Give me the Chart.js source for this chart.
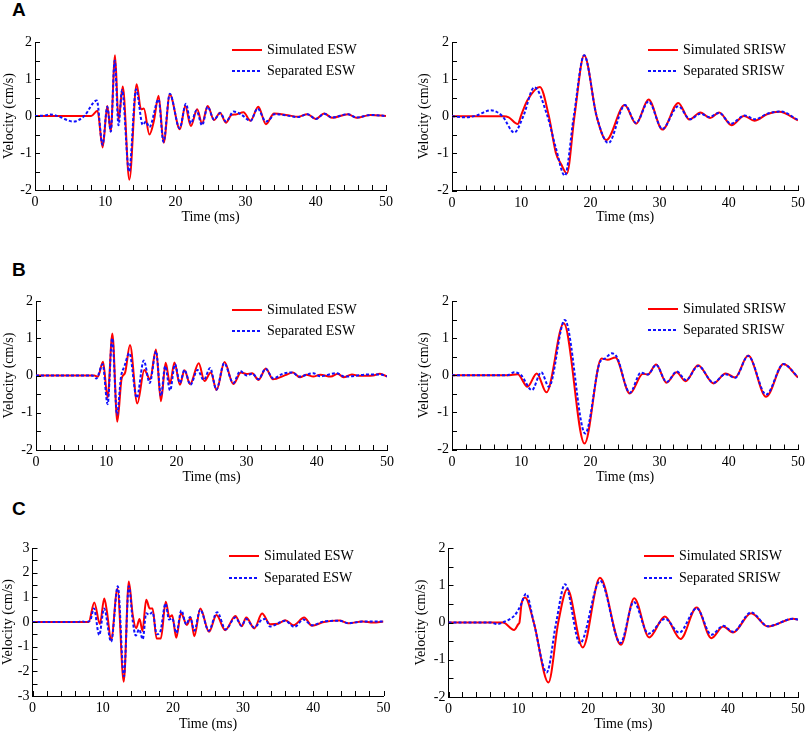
<!DOCTYPE html>
<html>
<head>
<meta charset="utf-8">
<script src="https://cdn.jsdelivr.net/npm/chart.js@4.4.0/dist/chart.umd.min.js"></script>
<style>
  body { margin: 0; background: #fff; }
  #wrap { position: relative; width: 809px; height: 734px; overflow: hidden; }
  canvas { position: absolute; }
  .tag { position: absolute; left: 12px; font: bold 19px/19px "Liberation Sans", Arial, sans-serif; color: #000; }
</style>
</head>
<body>
<div id="wrap">
  <div class="tag" style="top:0px">A</div>
  <div class="tag" style="top:260px">B</div>
  <div class="tag" style="top:499px">C</div>
  <canvas id="a1"></canvas>
  <canvas id="a2"></canvas>
  <canvas id="b1"></canvas>
  <canvas id="b2"></canvas>
  <canvas id="c1"></canvas>
  <canvas id="c2"></canvas>
</div>
<script>
// [time (ms), velocity (cm/s)] (peaks, troughs, shoulders)
const aEswSim = [[0,0],[8.0,0],[8.9,0.14],[9.64,-0.85],[10.3,0.27],[10.78,-0.42],[11.4,1.64],[11.9,-0.11],[12.5,0.8],[13.44,-1.72],[14.48,0.86],[15.1,0.18],[15.5,0.2],[16.3,-0.5],[16.95,-0.12],[17.6,0.55],[18.33,-0.72],[19.2,0.58],[20.65,-0.36],[21.4,0.27],[22.2,-0.27],[23.1,0.18],[23.8,-0.2],[24.6,0.27],[25.5,-0.11],[26.35,0.09],[27.2,-0.18],[28.0,0.03],[28.6,0.04],[29.7,0.1],[30.7,-0.13],[31.8,0.25],[32.9,-0.22],[34.05,0.07],[36,0.02],[37.5,-0.02],[38.8,0.05],[40,-0.08],[41.2,0.07],[42.3,-0.05],[44.6,0.05],[45.8,-0.05],[47.8,0.03],[50,0]];
const aEswSep = [[0,0],[1.2,0.01],[2.2,0.04],[3.2,0],[5.5,-0.15],[7.0,0],[8.8,0.42],[9.62,-0.78],[10.3,0.25],[10.8,-0.42],[11.35,1.5],[11.9,-0.25],[12.4,0.7],[13.4,-1.5],[14.4,0.72],[15.35,-0.24],[15.8,-0.15],[16.3,-0.3],[17.6,0.45],[18.3,-0.7],[19.2,0.6],[20.6,-0.33],[21.5,0.33],[22.2,-0.2],[23.0,0.15],[23.8,-0.25],[24.6,0.25],[25.5,-0.1],[26.4,0.08],[27.2,-0.15],[28.3,0.12],[29.3,0.05],[30.7,-0.13],[31.7,0.2],[32.9,-0.15],[33.5,-0.08],[34.1,0.05],[36,0.01],[37.5,-0.03],[38.8,0.05],[40,-0.08],[41.2,0.06],[42.3,-0.04],[44.6,0.05],[45.8,-0.04],[47.8,0.03],[50,0]];
const aSrSim = [[0,0],[7.5,0],[8.2,-0.03],[9.5,-0.21],[10.0,0.03],[10.9,0.43],[12.7,0.79],[14.0,0],[15.0,-0.98],[15.8,-1.3],[16.6,-1.54],[17.7,0],[19.1,1.64],[20.9,0],[22.3,-0.64],[24.95,0.3],[26.6,-0.2],[28.4,0.45],[30.4,-0.36],[32.7,0.36],[34.3,-0.09],[35.9,0.1],[37.3,-0.05],[38.6,0.1],[40.4,-0.24],[42.2,0.01],[43.7,-0.12],[45.6,0.06],[47.3,0.12],[50,-0.11]];
const aSrSep = [[0,0],[2.0,-0.03],[3.5,0.02],[5.6,0.16],[7.3,0],[9.0,-0.44],[10.3,0],[11.9,0.78],[13.8,0],[15.0,-0.85],[16.3,-1.6],[17.6,0],[19.1,1.64],[20.9,0],[22.6,-0.72],[25.0,0.3],[26.6,-0.18],[28.4,0.4],[30.4,-0.34],[32.7,0.27],[34.4,-0.08],[35.9,0.07],[37.2,-0.02],[38.6,0.09],[40.3,-0.2],[42.3,0.02],[43.8,-0.08],[45.6,0.07],[47.5,0.13],[50,-0.1]];

const bEswSim = [[0,0],[8.3,0],[8.8,-0.03],[9.55,0.37],[10.2,-0.6],[10.88,1.13],[11.58,-1.24],[12.2,-0.08],[12.68,0.07],[13.39,0.82],[14.43,-0.75],[15.43,0.15],[16.24,-0.1],[17.09,0.7],[17.8,-0.69],[18.47,0.34],[19.09,-0.22],[19.72,0.35],[20.5,-0.25],[21.15,0.14],[21.95,-0.23],[23.18,0.33],[24.0,-0.15],[24.9,0.08],[25.72,-0.39],[26.85,0.36],[28.1,-0.23],[29.2,0.08],[30.0,0.04],[30.8,0.06],[31.7,-0.12],[32.75,0.19],[33.75,-0.1],[35.5,0.01],[36.6,0.08],[37.6,-0.05],[38.5,0.02],[39.5,-0.03],[40.5,0.02],[42,-0.03],[43,0.05],[43.8,-0.05],[45,0.03],[46,-0.01],[48,0],[49,0.05],[50,-0.03]];
const bEswSep = [[0,0],[8.0,0],[8.6,-0.08],[9.5,0.3],[10.2,-0.77],[10.85,1.0],[11.55,-1.05],[12.1,-0.05],[12.6,0.25],[13.3,0.6],[14.35,-0.6],[15.35,0.4],[16.2,-0.2],[17.1,0.65],[17.8,-0.55],[18.4,0.25],[19.1,-0.4],[19.8,0.3],[20.5,-0.2],[21.15,0.15],[22.0,-0.25],[23.0,0.15],[23.9,-0.12],[24.8,0.2],[25.7,-0.38],[26.8,0.33],[28.1,-0.2],[29.1,0.12],[30,0.0],[30.8,0.05],[31.7,-0.1],[32.7,0.18],[33.8,-0.08],[35.2,0.05],[36.5,0.08],[37.5,-0.03],[39.5,0.06],[40.5,-0.02],[42.8,0.06],[44,-0.03],[47.5,0.03],[49,0.03],[50,-0.02]];
const bSrSim = [[0,0],[8.0,0],[9.5,0.03],[10.9,-0.31],[12.25,0.05],[13.65,-0.46],[16.15,1.4],[19.15,-1.84],[21.6,0.45],[22.5,0.42],[23.6,0.48],[25.7,-0.49],[27.6,0.04],[28.3,0.02],[29.5,0.29],[31.0,-0.2],[32.45,0.08],[33.75,-0.16],[35.55,0.27],[37.8,-0.22],[39.55,0.05],[40.9,-0.06],[42.8,0.53],[45.4,-0.58],[47.9,0.3],[50,-0.06]];
const bSrSep = [[0,0],[8.0,0],[9.0,0.08],[10.0,0.0],[11.55,-0.4],[12.9,0.08],[14.0,-0.31],[16.3,1.49],[19.25,-1.57],[21.4,0.36],[22.1,0.45],[23.05,0.59],[23.8,0.5],[25.7,-0.47],[27.3,0.07],[28.3,0.02],[29.5,0.28],[31.0,-0.18],[32.5,0.1],[33.8,-0.13],[35.6,0.25],[37.8,-0.2],[39.5,0.03],[40.9,-0.07],[42.8,0.52],[45.4,-0.52],[47.9,0.3],[50,-0.05]];

const cEswSim = [[0,0],[8.0,0],[8.8,0.79],[9.6,-0.08],[10.22,0.95],[10.6,0.43],[11.2,-0.74],[12.1,1.35],[13.0,-2.42],[13.72,1.64],[14.28,0.28],[14.77,-0.25],[15.25,0.12],[15.66,-0.36],[16.2,0.9],[16.7,0.55],[17.1,0.55],[17.68,-0.67],[18.28,-0.67],[18.98,0.82],[19.5,0.2],[19.9,0.27],[20.48,-0.64],[21.15,0.35],[22.0,-0.12],[22.53,0.18],[23.05,-0.58],[23.9,0.55],[25.15,-0.4],[26.2,0.28],[27.45,-0.33],[28.9,0.24],[29.8,-0.17],[30.45,0.18],[31.6,-0.26],[32.7,0.34],[33.85,-0.09],[35,-0.07],[36.0,0.07],[37.2,-0.13],[38.7,0.18],[39.8,-0.15],[41.5,0.0],[43.7,0.06],[45,-0.05],[47,0.02],[48.5,-0.02],[50,0.02]];
const cEswSep = [[0,0],[6.5,0],[7.0,0.03],[7.5,0],[8.2,0.05],[8.75,0.55],[9.5,-0.53],[10.2,0.55],[11.2,-0.8],[12.15,1.45],[13.02,-2.2],[13.72,1.45],[14.3,0.0],[14.7,-0.55],[15.2,-0.3],[15.7,-0.7],[16.2,0.35],[16.6,0.3],[17.1,0.4],[17.7,-0.5],[18.2,-0.4],[18.95,0.75],[19.45,0.1],[19.9,0.15],[20.5,-0.45],[21.2,0.47],[21.9,-0.1],[22.45,0.2],[23.05,-0.35],[23.9,0.5],[25.1,-0.35],[26.3,0.4],[27.5,-0.3],[28.9,0.18],[29.8,-0.15],[30.4,0.12],[31.6,-0.22],[32.7,0.1],[33.2,0.12],[33.8,-0.18],[36.0,0.05],[37.3,-0.2],[38.6,0.1],[39.8,-0.13],[41.5,0.02],[43.7,0.05],[45,-0.05],[47,0.02],[50,0.02]];
const cSrSim = [[0,0],[7.8,0],[9.38,-0.2],[10.0,-0.04],[10.15,0.0],[10.45,0.5],[10.95,0.67],[12.2,0],[14.3,-1.61],[15.7,0],[17.0,0.9],[19.2,-0.67],[21.67,1.2],[24.67,-0.6],[26.57,0.65],[28.7,-0.4],[30.95,0.16],[33.2,-0.44],[35.5,0.4],[37.6,-0.42],[39.3,-0.11],[40.7,-0.27],[43.3,0.25],[45.7,-0.11],[49.3,0.1],[50,0.08]];
const cSrSep = [[0,0],[6.0,0],[7.0,-0.04],[8.0,0.02],[9.5,0.2],[10.3,0.45],[11.1,0.77],[12.2,0],[14.05,-1.34],[15.4,0],[16.67,1.03],[18.8,-0.56],[21.7,1.12],[24.6,-0.55],[26.5,0.55],[28.6,-0.3],[31.0,0.1],[33.0,-0.27],[35.5,0.38],[37.6,-0.33],[39.3,-0.09],[40.7,-0.25],[43.3,0.27],[45.7,-0.1],[49.3,0.1],[50,0.08]];

const eswNames = ['Simulated ESW', 'Separated ESW'];
const srNames = ['Simulated SRISW', 'Separated SRISW'];
const xTitle = 'Time (ms)';
const yTitle = 'Velocity (cm/s)';

const FONT = '"Liberation Serif", "Times New Roman", serif';

// page layout: canvas box, plot box, title centres and legend anchor (page pixels)
const panels = [
  { id: 'a1', box: [0, 0, 404, 245], plot: [35, 42, 386, 190], yRange: [-2, 2], sim: aEswSim, sep: aEswSep, names: eswNames, yTitleX: 9, xTitleY: 217, legend: [232, 50, 71] },
  { id: 'a2', box: [404, 0, 809, 245], plot: [452, 42, 802, 190.5], yRange: [-2, 2], sim: aSrSim, sep: aSrSep, names: srNames, yTitleX: 424, xTitleY: 217, legend: [648, 50, 71] },
  { id: 'b1', box: [0, 245, 404, 490], plot: [36, 301, 387, 450], yRange: [-2, 2], sim: bEswSim, sep: bEswSep, names: eswNames, yTitleX: 9, xTitleY: 477, legend: [232, 310, 331] },
  { id: 'b2', box: [404, 245, 809, 490], plot: [452, 301, 802, 449.5], yRange: [-2, 2], sim: bSrSim, sep: bSrSep, names: srNames, yTitleX: 424, xTitleY: 477, legend: [648, 309, 330] },
  { id: 'c1', box: [0, 490, 404, 734], plot: [32.5, 548, 383.5, 696], yRange: [-3, 3], sim: cEswSim, sep: cEswSep, names: eswNames, yTitleX: 7, xTitleY: 724.5, legend: [229, 556, 578] },
  { id: 'c2', box: [404, 490, 809, 734], plot: [448.5, 548, 798.5, 697], yRange: [-2, 2], sim: cSrSim, sep: cSrSep, names: srNames, yTitleX: 421, xTitleY: 724.5, legend: [644, 556, 578] }
];

// inward minor/major ticks and an in-plot legend
const figureDecor = {
  id: 'figureDecor',
  afterDraw(chart, args, opts) {
    const { ctx, chartArea: a, scales: { x, y } } = chart;
    ctx.save();
    ctx.strokeStyle = '#000';
    ctx.lineWidth = 1;
    ctx.setLineDash([]);
    ctx.beginPath();
    for (let t = x.min; t <= x.max + 1e-9; t += 2) {
      const px = Math.round(x.getPixelForValue(t)) + 0.5;
      ctx.moveTo(px, a.bottom);
      ctx.lineTo(px, a.bottom - 5);
    }
    for (let v = y.min; v <= y.max + 1e-9; v += 0.5) {
      const py = Math.round(y.getPixelForValue(v)) + 0.5;
      ctx.moveTo(a.left, py);
      ctx.lineTo(a.left + 5, py);
    }
    ctx.stroke();

    const [lx, r1, r2] = opts.pos;
    const rows = [r1, r2];
    ctx.font = '14px ' + FONT;
    ctx.textBaseline = 'middle';
    ctx.fillStyle = '#000';
    chart.data.datasets.forEach((ds, i) => {
      const ry = rows[i];
      ctx.strokeStyle = ds.borderColor;
      ctx.lineWidth = ds.borderWidth;
      ctx.setLineDash(ds.borderDash || []);
      ctx.beginPath();
      ctx.moveTo(lx, ry);
      ctx.lineTo(lx + 30, ry);
      ctx.stroke();
      ctx.fillText(ds.label, lx + 35, ry);
    });
    ctx.restore();
  }
};

function makePanel(p) {
  const [bl, bt, br, bb] = p.box;
  const [pl, pt, pr, pb] = p.plot;
  const canvas = document.getElementById(p.id);
  canvas.width = br - bl;
  canvas.height = bb - bt;
  canvas.style.left = bl + 'px';
  canvas.style.top = bt + 'px';

  const xh = p.xTitleY - pb + 8.4;
  const yw = pl - bl;

  new Chart(canvas, {
    type: 'line',
    data: {
      datasets: [
        {
          label: p.names[0],
          data: p.sim.map(d => ({ x: d[0], y: d[1] })),
          borderColor: '#ff0000',
          borderWidth: 2,
          order: 1
        },
        {
          label: p.names[1],
          data: p.sep.map(d => ({ x: d[0], y: d[1] })),
          borderColor: '#1010ff',
          borderWidth: 2,
          borderDash: [3, 2],
          order: 0
        }
      ]
    },
    options: {
      responsive: false,
      animation: false,
      layout: { padding: { left: 0, top: pt - bt, right: br - pr, bottom: bb - pb - xh } },
      datasets: { line: { cubicInterpolationMode: 'monotone', tension: 0.4, pointRadius: 0, fill: false } },
      plugins: {
        legend: { display: false },
        tooltip: { enabled: false },
        figureDecor: { pos: [p.legend[0] - bl, p.legend[1] - bt, p.legend[2] - bt] }
      },
      scales: {
        x: {
          type: 'linear',
          min: 0,
          max: 50,
          grid: { display: false, drawTicks: false },
          border: { display: true, color: '#000', width: 1 },
          ticks: { stepSize: 10, color: '#000', padding: 4, maxRotation: 0, font: { family: FONT, size: 14 } },
          title: { display: true, text: xTitle, color: '#000', padding: { top: 0, bottom: 0 }, font: { family: FONT, size: 14 } },
          afterFit(s) { s.height = xh; }
        },
        y: {
          type: 'linear',
          min: p.yRange[0],
          max: p.yRange[1],
          grid: { display: false, drawTicks: false },
          border: { display: true, color: '#000', width: 1 },
          ticks: { stepSize: 1, color: '#000', padding: 3, font: { family: FONT, size: 14 } },
          title: { display: true, text: yTitle, color: '#000', padding: { top: Math.max(0, p.yTitleX - bl - 8.4), bottom: 0 }, font: { family: FONT, size: 14 } },
          afterFit(s) { s.width = yw; }
        }
      }
    },
    plugins: [figureDecor]
  });
}

panels.forEach(makePanel);
</script>
</body>
</html>
